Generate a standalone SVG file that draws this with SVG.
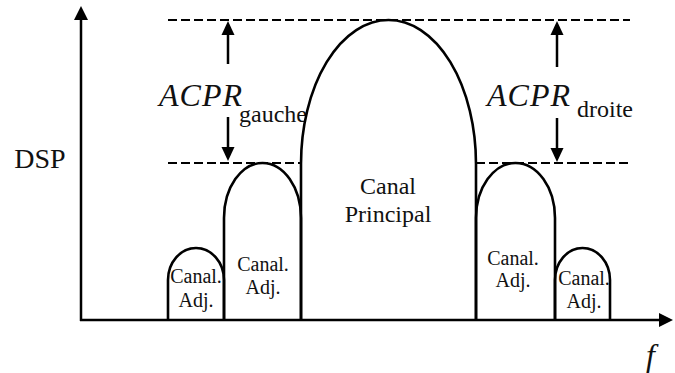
<svg xmlns="http://www.w3.org/2000/svg" width="675" height="373" viewBox="0 0 675 373">
<style>
.lobe{fill:none;stroke:#000;stroke-width:2.6}
.axis{stroke:#000;stroke-width:2.5;fill:none}
.dash{stroke:#000;stroke-width:2;stroke-dasharray:9 4;fill:none}
.arr{stroke:#000;stroke-width:2.5;fill:none}
.head{fill:#000}
text{font-family:"Liberation Serif",Tinos,"Times New Roman","DejaVu Serif",serif;fill:#111}
.lbl{text-anchor:middle}
.acpr{font-style:italic;font-size:32px;letter-spacing:1px}
.sub{font-size:24px}
</style>
<rect width="675" height="373" fill="#fff"/>
<g id="axes">
<line class="axis" x1="81" y1="321" x2="81" y2="18"/>
<polygon class="head" points="81,6 74,20 88,20"/>
<line class="axis" x1="80" y1="320" x2="661" y2="320"/>
<polygon class="head" points="673,320 659,313 659,327"/>
<text class="lbl" x="40" y="168" font-size="28">DSP</text>
<text x="646" y="366" font-style="italic" font-size="32">f</text>
</g>
<g id="connectors">
<line class="dash" x1="168" y1="20" x2="630" y2="20"/>
<line class="dash" x1="168" y1="163" x2="301" y2="163"/>
<line class="dash" x1="476" y1="163" x2="630" y2="163"/>
<line class="arr" x1="228" y1="34" x2="228" y2="64"/>
<polygon class="head" points="228,21 221.5,35 234.5,35"/>
<line class="arr" x1="228" y1="117" x2="228" y2="148"/>
<polygon class="head" points="228,161 221.5,147 234.5,147"/>
<line class="arr" x1="557" y1="34" x2="557" y2="67"/>
<polygon class="head" points="557,21 550.5,35 563.5,35"/>
<line class="arr" x1="557" y1="118" x2="557" y2="149"/>
<polygon class="head" points="557,162 550.5,148 563.5,148"/>
</g>
<g id="acpr-gauche">
<text class="acpr" x="159" y="106">ACPR</text>
<text class="sub" x="239" y="122">gauche</text>
</g>
<g id="acpr-droite">
<text class="acpr" x="487" y="106">ACPR</text>
<text class="sub" x="577" y="117">droite</text>
</g>
<g id="canal-principal">
<path class="lobe" d="M301,320 V164 A87.5,144 0 0 1 476,164 V320"/>
<text class="lbl" font-size="24"><tspan x="388" y="194">Canal</tspan><tspan x="388" y="222">Principal</tspan></text>
</g>
<g id="adj-gauche-1">
<path class="lobe" d="M224,320 V218 A38.5,55 0 0 1 301,218 V320"/>
<text class="lbl" font-size="20"><tspan x="263" y="271">Canal.</tspan><tspan x="263" y="294">Adj.</tspan></text>
</g>
<g id="adj-gauche-2">
<path class="lobe" d="M168,320 V280 A28,32 0 0 1 224,280 V320"/>
<text class="lbl" font-size="20"><tspan x="196" y="283">Canal.</tspan><tspan x="196" y="307">Adj.</tspan></text>
</g>
<g id="adj-droite-1">
<path class="lobe" d="M476,320 V218 A39.5,55 0 0 1 555,218 V320"/>
<text class="lbl" font-size="20"><tspan x="513" y="265">Canal.</tspan><tspan x="513" y="287">Adj.</tspan></text>
</g>
<g id="adj-droite-2">
<path class="lobe" d="M555,320 V280 A27.5,32 0 0 1 610,280 V320"/>
<text class="lbl" font-size="20"><tspan x="584" y="285">Canal.</tspan><tspan x="584" y="308">Adj.</tspan></text>
</g>
</svg>
